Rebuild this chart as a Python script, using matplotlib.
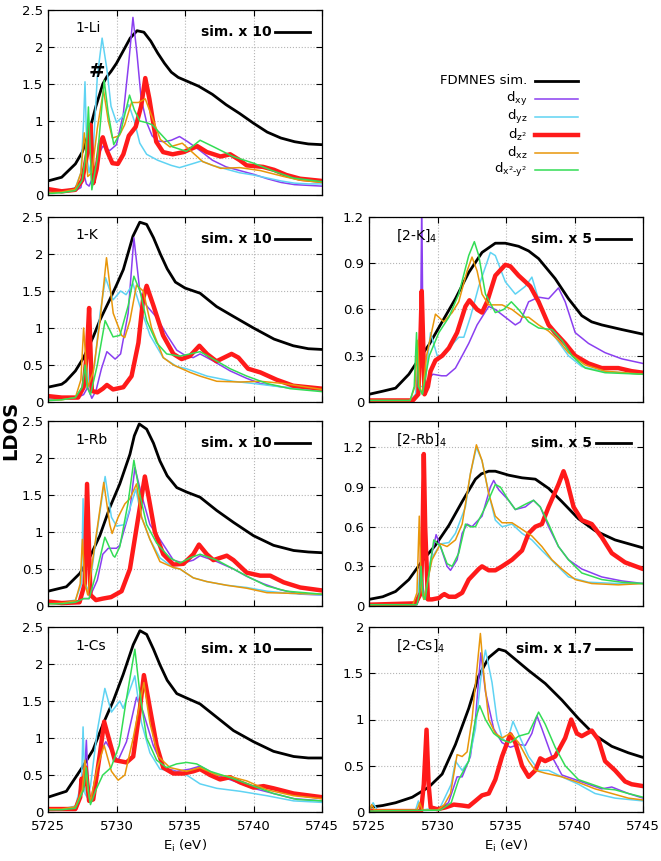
import matplotlib
matplotlib.use('Agg')
import matplotlib.pyplot as plt
from matplotlib.lines import Line2D
from matplotlib.ticker import FormatStrFormatter

# LDOS curves, as (E in eV, value) pairs
# order in every panel: FDMNES sim., dxy, dyz, dz2, dxz, dx2-y2

# ---- 1-Li
li_sim = [(5725, 0.19), (5726, 0.24), (5727, 0.42), (5727.5, 0.58), (5728, 0.85), (5728.5, 1.2), (5729, 1.5),
          (5729.3, 1.6), (5729.6, 1.67), (5730, 1.78), (5730.5, 1.95), (5731, 2.12), (5731.5, 2.22), (5732, 2.2),
          (5732.5, 2.08), (5733, 1.92), (5733.5, 1.78), (5734, 1.66), (5734.5, 1.59), (5735, 1.55), (5736, 1.47),
          (5737, 1.36), (5738, 1.22), (5739, 1.1), (5740, 0.97), (5741, 0.85), (5742, 0.77), (5743, 0.72),
          (5744, 0.69), (5745, 0.68)]
li_xy = [(5725, 0.04), (5726, 0.04), (5727, 0.06), (5727.4, 0.1), (5727.6, 0.3), (5727.8, 0.15), (5728, 0.12),
         (5728.3, 0.25), (5728.7, 0.55), (5729, 0.66), (5729.5, 0.6), (5730, 0.68), (5730.5, 1.1), (5730.9, 1.8),
         (5731.2, 2.4), (5731.5, 1.9), (5731.8, 1.3), (5732.2, 0.98), (5732.6, 0.8), (5733, 0.73), (5733.5, 0.72),
         (5734, 0.74), (5734.6, 0.79), (5735.2, 0.72), (5736.1, 0.6), (5737, 0.47), (5738, 0.38), (5739, 0.33),
         (5740, 0.28), (5741, 0.22), (5742, 0.17), (5743, 0.14), (5744, 0.13), (5745, 0.12)]
li_yz = [(5725, 0.06), (5726, 0.05), (5727, 0.1), (5727.4, 0.3), (5727.6, 1.0), (5727.7, 1.53), (5727.85, 0.5),
         (5728, 0.3), (5728.3, 0.6), (5728.6, 1.6), (5728.95, 2.12), (5729.3, 1.7), (5729.6, 1.2), (5730, 0.98),
         (5730.4, 1.05), (5730.9, 1.22), (5731.3, 1.0), (5731.7, 0.7), (5732.2, 0.55), (5733, 0.47), (5734, 0.4),
         (5734.6, 0.37), (5735.5, 0.42), (5736.2, 0.46), (5737, 0.4), (5738, 0.35), (5739, 0.3), (5740, 0.27),
         (5741, 0.23), (5742, 0.19), (5743, 0.16), (5744, 0.15), (5745, 0.15)]
li_z2 = [(5725, 0.08), (5726, 0.05), (5727, 0.07), (5727.5, 0.2), (5727.75, 0.45), (5727.9, 0.6), (5728.1, 0.95),
         (5728.3, 0.16), (5728.55, 0.35), (5728.8, 0.7), (5729.0, 0.78), (5729.3, 0.6), (5729.7, 0.43),
         (5730.1, 0.42), (5730.5, 0.55), (5730.9, 0.8), (5731.4, 0.92), (5731.8, 1.2), (5732.1, 1.58),
         (5732.4, 1.3), (5732.9, 0.72), (5733.4, 0.58), (5734.1, 0.55), (5734.9, 0.58), (5735.9, 0.66),
         (5736.6, 0.58), (5737.6, 0.52), (5738.3, 0.55), (5739.0, 0.47), (5739.5, 0.4), (5740.7, 0.38),
         (5741.5, 0.34), (5742.4, 0.27), (5743.4, 0.22), (5745, 0.19)]
li_xz = [(5725, 0.03), (5726, 0.04), (5727, 0.08), (5727.4, 0.3), (5727.65, 0.84), (5727.9, 0.25), (5728.2, 0.3),
         (5728.6, 0.9), (5729.05, 1.42), (5729.4, 1.0), (5729.7, 0.77), (5730.2, 0.8), (5730.6, 0.95),
         (5731.1, 1.25), (5731.6, 1.25), (5732.1, 1.3), (5732.7, 1.0), (5733.2, 0.75), (5733.9, 0.65),
         (5734.8, 0.7), (5735.4, 0.6), (5736.3, 0.45), (5737.6, 0.36), (5739, 0.37), (5740.5, 0.33),
         (5742.2, 0.25), (5743.4, 0.2), (5745, 0.17)]
li_x2y2 = [(5725, 0.02), (5726, 0.03), (5727, 0.06), (5727.5, 0.2), (5727.8, 0.6), (5727.95, 1.19), (5728.2, 0.07),
           (5728.6, 0.5), (5729.1, 1.55), (5729.4, 1.1), (5729.8, 0.68), (5730.3, 0.85), (5730.95, 1.35),
           (5731.3, 1.15), (5731.7, 1.0), (5732.15, 0.98), (5732.6, 0.95), (5733.2, 0.83), (5734.1, 0.65),
           (5735.1, 0.59), (5736.1, 0.74), (5737.1, 0.65), (5738.5, 0.52), (5740, 0.43), (5741.5, 0.32),
           (5742.9, 0.23), (5745, 0.18)]

# ---- 1-K
k_sim = [(5725, 0.2), (5726, 0.24), (5726.3, 0.28), (5727, 0.42), (5727.6, 0.6), (5728.3, 0.88), (5728.8, 1.11),
         (5729.5, 1.38), (5730, 1.58), (5730.5, 1.79), (5731.2, 2.24), (5731.7, 2.43), (5732.2, 2.4), (5732.7, 2.22),
         (5733.2, 2.0), (5733.7, 1.8), (5734.3, 1.62), (5735, 1.54), (5736.1, 1.47), (5737.3, 1.29), (5738.5, 1.16),
         (5740, 1.0), (5741.5, 0.85), (5742.9, 0.76), (5744, 0.72), (5745, 0.71)]
k_xy = [(5725, 0.04), (5726, 0.04), (5727, 0.05), (5727.6, 0.1), (5727.9, 0.2), (5728.2, 0.05), (5728.5, 0.15),
        (5728.9, 0.45), (5729.3, 0.68), (5729.9, 0.58), (5730.3, 0.65), (5730.85, 1.2), (5731.27, 2.22),
        (5731.7, 1.5), (5732.2, 1.3), (5732.9, 1.15), (5733.7, 0.9), (5734.4, 0.7), (5735.1, 0.62), (5735.6, 0.6),
        (5736.1, 0.65), (5737.1, 0.55), (5738.3, 0.42), (5739.5, 0.32), (5740.5, 0.25), (5742.2, 0.2), (5745, 0.16)]
k_yz = [(5725, 0.04), (5726, 0.04), (5727, 0.06), (5727.5, 0.2), (5727.8, 0.6), (5728.0, 0.2), (5728.4, 0.5),
        (5728.8, 1.2), (5729.2, 1.68), (5729.75, 1.38), (5730.3, 1.5), (5730.7, 1.45), (5731.2, 1.6), (5731.7, 1.3),
        (5732.45, 0.9), (5733.4, 0.6), (5734.4, 0.48), (5735.1, 0.45), (5736.6, 0.35), (5738.5, 0.28),
        (5740, 0.25), (5742.2, 0.2), (5745, 0.15)]
k_z2 = [(5725, 0.08), (5726, 0.06), (5727.2, 0.06), (5727.6, 0.2), (5727.85, 0.7), (5728.0, 1.27), (5728.2, 0.15),
        (5728.6, 0.13), (5729.0, 0.18), (5729.3, 0.23), (5729.75, 0.17), (5730.5, 0.2), (5731.1, 0.35),
        (5731.6, 0.8), (5731.95, 1.4), (5732.2, 1.57), (5732.7, 1.3), (5733.4, 0.9), (5734.15, 0.65),
        (5734.75, 0.58), (5735.35, 0.62), (5736.05, 0.76), (5736.6, 0.65), (5737.3, 0.55), (5738.4, 0.65),
        (5738.9, 0.6), (5739.6, 0.45), (5740.5, 0.4), (5741.7, 0.3), (5742.9, 0.22), (5745, 0.18)]
k_xz = [(5725, 0.02), (5726, 0.03), (5727, 0.06), (5727.4, 0.3), (5727.6, 1.0), (5727.9, 0.2), (5728.3, 0.4),
        (5728.8, 1.1), (5729.27, 1.95), (5729.76, 1.2), (5730.37, 0.9), (5730.6, 0.87), (5730.98, 1.1),
        (5731.46, 1.58), (5731.95, 1.5), (5732.56, 1.0), (5733.41, 0.6), (5734.15, 0.5), (5735.37, 0.4),
        (5736.1, 0.35), (5737.32, 0.28), (5739.02, 0.27), (5740.49, 0.28), (5742.2, 0.25), (5745, 0.17)]
k_x2y2 = [(5725, 0.02), (5726, 0.03), (5727, 0.06), (5727.5, 0.2), (5727.7, 0.5), (5727.85, 0.2), (5728.1, 0.1),
          (5728.6, 0.5), (5729.17, 1.1), (5729.75, 0.88), (5730.25, 0.9), (5730.85, 1.3), (5731.27, 1.7),
          (5731.71, 1.5), (5732.2, 1.1), (5732.93, 0.8), (5733.66, 0.65), (5734.63, 0.62), (5736.1, 0.68),
          (5737.07, 0.58), (5738.29, 0.45), (5739.51, 0.35), (5740.98, 0.25), (5742.68, 0.18), (5745, 0.14)]

# ---- 1-Rb
rb_sim = [(5725, 0.2), (5726.34, 0.26), (5727.32, 0.44), (5728.05, 0.66), (5728.78, 0.95), (5729.51, 1.33),
          (5730.24, 1.65), (5730.98, 2.05), (5731.3, 2.3), (5731.66, 2.46), (5732.2, 2.39), (5732.7, 2.2),
          (5733.17, 1.96), (5733.7, 1.76), (5734.4, 1.6), (5735.12, 1.54), (5736.1, 1.47), (5737.32, 1.29),
          (5738.54, 1.13), (5740, 0.95), (5741.46, 0.82), (5742.93, 0.75), (5744, 0.73), (5745, 0.72)]
rb_xy = [(5725, 0.05), (5726, 0.04), (5727, 0.05), (5727.5, 0.1), (5728, 0.1), (5728.6, 0.35), (5729.0, 0.7),
         (5729.4, 0.78), (5730.0, 0.78), (5730.24, 0.82), (5730.98, 1.3), (5731.34, 1.87), (5731.83, 1.5),
         (5732.44, 1.1), (5733.17, 0.9), (5734.15, 0.62), (5734.88, 0.58), (5735.61, 0.62), (5736.1, 0.68),
         (5737.32, 0.6), (5738.54, 0.5), (5739.51, 0.4), (5740.73, 0.3), (5741.95, 0.22), (5743.41, 0.16),
         (5745, 0.15)]
rb_yz = [(5725, 0.05), (5726, 0.05), (5727, 0.08), (5727.45, 0.3), (5727.56, 1.45), (5727.7, 0.3), (5728.0, 0.2),
         (5728.5, 0.9), (5729.17, 1.75), (5729.63, 1.2), (5730.0, 1.08), (5730.61, 1.1), (5731.41, 1.58),
         (5731.83, 1.2), (5732.44, 0.9), (5733.17, 0.65), (5734.15, 0.52), (5734.63, 0.5), (5735.61, 0.38),
         (5736.59, 0.33), (5738.05, 0.28), (5739.51, 0.25), (5740.98, 0.2), (5742.68, 0.17), (5745, 0.15)]
rb_z2 = [(5725, 0.06), (5726, 0.04), (5727.3, 0.05), (5727.68, 0.3), (5727.85, 1.65), (5728.1, 0.15),
         (5728.5, 0.08), (5729.0, 0.1), (5729.6, 0.12), (5730.37, 0.2), (5730.98, 0.5), (5731.59, 1.2),
         (5732.07, 1.75), (5732.32, 1.5), (5732.8, 1.0), (5733.41, 0.7), (5734.15, 0.56), (5734.88, 0.57),
         (5735.61, 0.7), (5736.02, 0.83), (5736.59, 0.7), (5737.07, 0.62), (5738.05, 0.68), (5738.54, 0.62),
         (5739.51, 0.45), (5740.49, 0.41), (5741.22, 0.41), (5742.2, 0.32), (5743.41, 0.25), (5745, 0.21)]
rb_xz = [(5725, 0.03), (5726, 0.04), (5727, 0.07), (5727.35, 0.3), (5727.51, 0.9), (5727.7, 0.3), (5727.9, 0.15),
         (5728.4, 0.8), (5729.07, 1.67), (5729.51, 1.1), (5729.68, 0.98), (5730.12, 1.2), (5730.61, 1.38),
         (5730.98, 1.45), (5731.46, 1.65), (5731.83, 1.2), (5732.44, 0.9), (5733.17, 0.6), (5734.15, 0.52),
         (5734.63, 0.5), (5735.61, 0.38), (5736.59, 0.33), (5738.05, 0.28), (5739.51, 0.24), (5740.98, 0.18),
         (5745, 0.16)]
rb_x2y2 = [(5725, 0.03), (5726, 0.03), (5727, 0.05), (5727.6, 0.1), (5728.0, 0.1), (5728.6, 0.5), (5729.15, 0.93),
           (5729.76, 0.68), (5729.88, 0.66), (5730.24, 0.8), (5730.85, 1.4), (5731.27, 1.97), (5731.71, 1.5),
           (5732.2, 1.1), (5732.93, 0.85), (5733.9, 0.65), (5734.63, 0.58), (5735.37, 0.65), (5736.1, 0.7),
           (5737.32, 0.62), (5738.54, 0.5), (5739.76, 0.38), (5740.98, 0.27), (5742.44, 0.2), (5745, 0.16)]

# ---- 1-Cs
cs_sim = [(5725, 0.2), (5726.34, 0.28), (5727.56, 0.62), (5728.29, 0.84), (5729.02, 1.19), (5729.76, 1.5),
          (5730.49, 1.86), (5731.22, 2.26), (5731.71, 2.45), (5732.2, 2.4), (5732.7, 2.2), (5733.17, 1.99),
          (5733.7, 1.78), (5734.4, 1.6), (5735.12, 1.54), (5736.1, 1.46), (5737.32, 1.28), (5738.54, 1.1),
          (5740, 0.95), (5741.46, 0.82), (5742.93, 0.75), (5744, 0.73), (5745, 0.73)]
cs_xy = [(5725, 0.04), (5726, 0.04), (5727, 0.06), (5727.6, 0.3), (5727.8, 0.97), (5727.95, 0.3), (5728.1, 0.15),
         (5728.4, 0.4), (5728.8, 0.8), (5729.22, 0.95), (5729.88, 0.75), (5730.12, 0.7), (5730.73, 0.95),
         (5731.46, 1.55), (5731.95, 1.35), (5732.68, 0.9), (5733.41, 0.6), (5734.39, 0.55), (5735.37, 0.58),
         (5736.1, 0.62), (5737.32, 0.5), (5738.54, 0.42), (5740, 0.32), (5741.46, 0.25), (5742.93, 0.18),
         (5745, 0.15)]
cs_yz = [(5725, 0.04), (5726, 0.04), (5727, 0.08), (5727.45, 0.4), (5727.56, 1.15), (5727.7, 0.25), (5727.85, 0.2),
         (5728.1, 0.35), (5728.6, 1.1), (5729.15, 1.67), (5729.63, 1.35), (5730.24, 1.5), (5730.49, 1.4),
         (5731.34, 1.84), (5731.83, 1.2), (5732.44, 0.8), (5733.17, 0.58), (5734.15, 0.55), (5735.12, 0.5),
         (5736.1, 0.38), (5737.32, 0.32), (5739.02, 0.28), (5740.98, 0.22), (5742.93, 0.15), (5745, 0.13)]
cs_z2 = [(5725, 0.04), (5727, 0.04), (5727.35, 0.2), (5727.45, 0.45), (5727.55, 0.35), (5727.75, 0.6),
         (5728.0, 0.15), (5728.3, 0.17), (5728.8, 0.8), (5729.1, 1.22), (5729.5, 0.95), (5729.88, 0.7),
         (5730.73, 0.67), (5731.22, 0.75), (5731.71, 1.4), (5732.0, 1.85), (5732.44, 1.4), (5732.93, 0.9),
         (5733.41, 0.6), (5734.15, 0.52), (5734.88, 0.52), (5735.61, 0.55), (5736.1, 0.58), (5736.83, 0.5),
         (5737.56, 0.44), (5738.29, 0.47), (5739.02, 0.4), (5740, 0.33), (5740.73, 0.35), (5741.46, 0.32),
         (5742.93, 0.25), (5745, 0.2)]
cs_xz = [(5725, 0.04), (5726, 0.04), (5727, 0.07), (5727.5, 0.3), (5727.7, 0.7), (5727.9, 0.3), (5728.1, 0.15),
         (5728.6, 0.6), (5729.1, 0.9), (5729.63, 0.55), (5730.12, 0.43), (5730.61, 0.5), (5731.22, 1.0),
         (5732.0, 1.75), (5732.44, 1.2), (5733.05, 0.75), (5733.9, 0.6), (5735.12, 0.55), (5736.1, 0.6),
         (5737.32, 0.5), (5738.29, 0.48), (5739.51, 0.42), (5740.98, 0.3), (5742.93, 0.22), (5745, 0.18)]
cs_x2y2 = [(5725, 0.03), (5726, 0.03), (5727, 0.05), (5727.6, 0.3), (5727.8, 0.6), (5728.0, 0.2), (5728.1, 0.1),
           (5728.5, 0.3), (5729.0, 0.5), (5729.6, 0.6), (5730.2, 0.9), (5730.7, 1.5), (5731.34, 2.2),
           (5731.71, 1.6), (5732.2, 1.0), (5732.93, 0.7), (5733.66, 0.6), (5734.39, 0.65), (5735.12, 0.67),
           (5735.85, 0.65), (5736.83, 0.55), (5738.54, 0.45), (5740, 0.35), (5741.46, 0.25), (5743.17, 0.17),
           (5745, 0.15)]

# ---- [2-K]4
k2_sim = [(5725, 0.05), (5726, 0.07), (5726.94, 0.09), (5727.91, 0.18), (5728.65, 0.28), (5729.37, 0.37),
          (5730.34, 0.52), (5731.31, 0.67), (5732.28, 0.84), (5733.25, 0.97), (5734.22, 1.03), (5734.95, 1.03),
          (5735.92, 1.01), (5736.65, 0.98), (5737.38, 0.93), (5738.59, 0.8), (5739.56, 0.67), (5740.53, 0.56),
          (5741.25, 0.52), (5741.99, 0.5), (5743.45, 0.47), (5745, 0.44)]
k2_xy = [(5725, 0.01), (5728.0, 0.01), (5728.6, 0.05), (5728.75, 0.3), (5728.85, 1.3), (5728.95, 0.3),
         (5729.05, 0.05), (5729.3, 0.15), (5729.67, 0.18), (5730.3, 0.17), (5730.65, 0.17), (5731.31, 0.22),
         (5731.8, 0.3), (5732.28, 0.38), (5732.89, 0.5), (5733.74, 0.62), (5734.22, 0.6), (5734.95, 0.55),
         (5735.68, 0.5), (5736.04, 0.52), (5736.65, 0.65), (5737.38, 0.68), (5738.11, 0.67), (5738.83, 0.74),
         (5739.32, 0.65), (5740.05, 0.45), (5741.02, 0.38), (5742.23, 0.32), (5743.45, 0.28), (5745, 0.25)]
k2_yz = [(5725, 0.01), (5728.0, 0.01), (5728.4, 0.05), (5728.6, 0.3), (5728.75, 0.1), (5729.05, 0.1),
         (5729.49, 0.45), (5729.98, 0.3), (5730.46, 0.3), (5730.83, 0.35), (5731.55, 0.42), (5731.92, 0.42),
         (5732.4, 0.55), (5733.01, 0.75), (5733.86, 0.97), (5734.22, 0.95), (5734.95, 0.78), (5735.68, 0.7),
         (5736.41, 0.75), (5736.89, 0.81), (5737.26, 0.7), (5737.86, 0.55), (5738.59, 0.42), (5739.56, 0.3),
         (5740.53, 0.23), (5741.99, 0.2), (5745, 0.18)]
k2_z2 = [(5725, 0.01), (5728.2, 0.01), (5728.6, 0.05), (5728.75, 0.4), (5728.85, 0.72), (5728.95, 0.4),
         (5729.05, 0.05), (5729.3, 0.1), (5729.49, 0.2), (5729.85, 0.27), (5730.34, 0.3), (5730.83, 0.35),
         (5731.43, 0.45), (5732.04, 0.62), (5732.33, 0.66), (5732.89, 0.6), (5733.25, 0.58), (5733.62, 0.65),
         (5734.22, 0.82), (5734.95, 0.89), (5735.32, 0.88), (5735.92, 0.82), (5736.41, 0.78), (5736.77, 0.75),
         (5737.38, 0.65), (5738.11, 0.5), (5738.59, 0.45), (5739.32, 0.38), (5740.05, 0.3), (5741.02, 0.25),
         (5741.99, 0.22), (5743.2, 0.22), (5744.17, 0.2), (5745, 0.19)]
k2_xz = [(5725, 0.01), (5728.0, 0.01), (5728.35, 0.1), (5728.55, 0.4), (5728.7, 0.1), (5728.9, 0.05),
         (5729.2, 0.3), (5729.85, 0.57), (5730.46, 0.52), (5731.07, 0.58), (5731.55, 0.65), (5732.16, 0.85),
         (5732.52, 0.94), (5732.89, 0.85), (5733.25, 0.7), (5733.74, 0.63), (5734.71, 0.63), (5735.44, 0.6),
         (5736.17, 0.55), (5736.65, 0.55), (5737.38, 0.5), (5738.11, 0.46), (5738.83, 0.4), (5739.56, 0.32),
         (5740.78, 0.24), (5742.23, 0.2), (5745, 0.18)]
k2_x2y2 = [(5725, 0.01), (5728.0, 0.01), (5728.3, 0.1), (5728.47, 0.45), (5728.6, 0.1), (5728.9, 0.05),
           (5729.4, 0.3), (5730.1, 0.45), (5730.83, 0.55), (5731.55, 0.7), (5732.28, 0.95), (5732.69, 1.04),
           (5733.01, 0.95), (5733.5, 0.7), (5734.22, 0.58), (5734.83, 0.6), (5735.39, 0.65), (5735.92, 0.6),
           (5736.65, 0.52), (5737.38, 0.48), (5738.35, 0.47), (5739.08, 0.4), (5739.81, 0.3), (5740.78, 0.22),
           (5742.23, 0.19), (5745, 0.18)]

# ---- [2-Rb]4
rb2_sim = [(5725, 0.05), (5726, 0.07), (5726.94, 0.11), (5727.91, 0.2), (5728.88, 0.34), (5729.85, 0.46),
           (5730.83, 0.61), (5731.8, 0.79), (5732.77, 0.96), (5733.2, 1.0), (5733.74, 1.02), (5734.22, 1.02),
           (5735.19, 0.99), (5736.17, 0.97), (5737.14, 0.96), (5738.11, 0.89), (5739.08, 0.79), (5740.29, 0.66),
           (5741.5, 0.57), (5742.96, 0.5), (5745, 0.44)]
rb2_xy = [(5725, 0.01), (5728.5, 0.01), (5728.8, 0.1), (5728.9, 0.2), (5729.0, 0.08), (5729.1, 0.05),
          (5729.6, 0.4), (5729.9, 0.54), (5730.22, 0.45), (5730.7, 0.3), (5730.95, 0.27), (5731.43, 0.35),
          (5731.8, 0.55), (5732.16, 0.62), (5732.52, 0.6), (5733.25, 0.68), (5733.86, 0.9), (5734.1, 0.95),
          (5734.47, 0.88), (5735.19, 0.8), (5735.68, 0.73), (5736.41, 0.75), (5737.01, 0.8), (5737.5, 0.75),
          (5738.11, 0.6), (5738.83, 0.45), (5739.56, 0.35), (5740.53, 0.28), (5741.99, 0.22), (5743.45, 0.19),
          (5745, 0.17)]
rb2_yz = [(5725, 0.01), (5728.3, 0.01), (5728.6, 0.1), (5728.72, 0.3), (5728.85, 0.1), (5729.0, 0.05),
          (5729.5, 0.35), (5730.22, 0.47), (5730.83, 0.48), (5731.31, 0.55), (5732.04, 0.75), (5732.4, 1.0),
          (5732.84, 1.2), (5733.25, 1.1), (5733.74, 0.85), (5734.22, 0.65), (5734.71, 0.6), (5735.44, 0.62),
          (5736.17, 0.55), (5736.89, 0.5), (5737.62, 0.42), (5738.59, 0.32), (5739.56, 0.22), (5741.02, 0.18),
          (5743.2, 0.17), (5745, 0.17)]
rb2_z2 = [(5725, 0.01), (5728.4, 0.02), (5728.8, 0.1), (5728.92, 0.6), (5729.0, 1.15), (5729.1, 0.6),
          (5729.3, 0.05), (5729.6, 0.05), (5730.1, 0.06), (5730.34, 0.08), (5730.5, 0.09), (5730.83, 0.07),
          (5731.31, 0.07), (5731.8, 0.1), (5732.28, 0.2), (5733.01, 0.28), (5733.25, 0.3), (5733.74, 0.27),
          (5734.22, 0.27), (5734.71, 0.3), (5735.44, 0.35), (5736.17, 0.42), (5736.65, 0.55), (5737.14, 0.6),
          (5737.62, 0.62), (5738.11, 0.75), (5738.83, 0.92), (5739.2, 1.02), (5739.44, 0.95), (5739.93, 0.75),
          (5740.53, 0.65), (5741.26, 0.62), (5741.99, 0.52), (5742.72, 0.4), (5743.69, 0.33), (5745, 0.28)]
rb2_xz = [(5725, 0.01), (5728.2, 0.01), (5728.5, 0.1), (5728.67, 0.68), (5728.8, 0.15), (5729.0, 0.05),
          (5729.6, 0.35), (5730.22, 0.47), (5730.7, 0.45), (5731.31, 0.5), (5731.8, 0.62), (5732.4, 1.0),
          (5732.84, 1.22), (5733.25, 1.1), (5733.74, 0.85), (5734.22, 0.68), (5734.71, 0.63), (5735.44, 0.63),
          (5736.17, 0.58), (5736.89, 0.53), (5737.62, 0.45), (5738.35, 0.35), (5739.08, 0.28), (5740.05, 0.2),
          (5741.26, 0.17), (5743.2, 0.16), (5745, 0.17)]
rb2_x2y2 = [(5725, 0.01), (5728.5, 0.01), (5728.7, 0.1), (5728.8, 0.3), (5728.95, 0.08), (5729.1, 0.05),
            (5729.73, 0.5), (5730.22, 0.45), (5730.7, 0.32), (5731.07, 0.3), (5731.55, 0.4), (5732.04, 0.62),
            (5732.4, 0.6), (5732.77, 0.6), (5733.5, 0.75), (5734.22, 0.92), (5734.59, 0.9), (5735.19, 0.8),
            (5735.68, 0.73), (5736.41, 0.77), (5737.01, 0.8), (5737.5, 0.75), (5738.11, 0.62), (5738.83, 0.45),
            (5739.56, 0.35), (5740.53, 0.25), (5741.99, 0.2), (5743.45, 0.18), (5745, 0.17)]

# ---- [2-Cs]4
cs2_sim = [(5725, 0.05), (5726, 0.07), (5726.94, 0.1), (5728.16, 0.16), (5729.37, 0.27), (5730.34, 0.41),
           (5731.31, 0.73), (5732.28, 1.12), (5733.01, 1.47), (5733.74, 1.67), (5734.47, 1.76), (5734.95, 1.74),
           (5735.68, 1.65), (5736.65, 1.53), (5737.86, 1.39), (5739.08, 1.21), (5740.29, 1.01), (5741.5, 0.83),
           (5742.72, 0.71), (5743.93, 0.64), (5745, 0.59)]
cs2_xy = [(5725, 0.01), (5730.0, 0.02), (5730.8, 0.1), (5731.43, 0.38), (5731.8, 0.38), (5732.4, 0.6),
          (5732.77, 1.0), (5733.16, 1.72), (5733.5, 1.3), (5734.1, 0.9), (5734.71, 0.75), (5735.32, 0.7),
          (5735.92, 0.73), (5736.41, 0.72), (5736.89, 0.85), (5737.26, 1.04), (5737.62, 0.9), (5738.35, 0.6),
          (5739.08, 0.4), (5740.05, 0.35), (5741.02, 0.3), (5741.99, 0.25), (5742.72, 0.27), (5743.93, 0.2),
          (5745, 0.15)]
cs2_yz = [(5725, 0.01), (5725.3, 0.1), (5725.6, 0.02), (5728.4, 0.02), (5728.6, 0.12), (5728.8, 0.02),
          (5730.2, 0.05), (5731.0, 0.3), (5731.31, 0.55), (5731.8, 0.45), (5732.28, 0.55), (5732.77, 0.9),
          (5733.13, 1.4), (5733.25, 1.55), (5733.5, 1.75), (5733.98, 1.4), (5734.34, 1.0), (5734.71, 0.8),
          (5735.07, 0.75), (5735.51, 0.98), (5736.04, 0.8), (5736.65, 0.6), (5737.38, 0.45), (5738.11, 0.45),
          (5739.08, 0.38), (5740.29, 0.3), (5741.5, 0.2), (5742.96, 0.15), (5745, 0.12)]
cs2_z2 = [(5725, 0.01), (5728.8, 0.01), (5729.0, 0.3), (5729.2, 0.89), (5729.35, 0.3), (5729.5, 0.05),
          (5730.0, 0.03), (5730.58, 0.05), (5731.19, 0.08), (5731.8, 0.07), (5732.28, 0.06), (5732.77, 0.12),
          (5733.25, 0.18), (5733.74, 0.2), (5734.22, 0.35), (5734.71, 0.6), (5735.32, 0.84), (5735.68, 0.75),
          (5736.17, 0.5), (5736.65, 0.38), (5737.14, 0.45), (5737.5, 0.58), (5737.86, 0.55), (5738.59, 0.6),
          (5739.32, 0.8), (5739.76, 1.0), (5740.17, 0.85), (5740.53, 0.82), (5741.26, 0.88), (5741.75, 0.78),
          (5742.23, 0.55), (5742.96, 0.45), (5743.69, 0.33), (5744.17, 0.3), (5745, 0.28)]
cs2_xz = [(5725, 0.01), (5725.2, 0.08), (5725.4, 0.02), (5728.5, 0.02), (5728.7, 0.1), (5728.9, 0.02),
          (5730.0, 0.02), (5730.5, 0.08), (5730.95, 0.2), (5731.43, 0.62), (5731.8, 0.6), (5732.16, 0.65),
          (5732.52, 1.0), (5733.13, 1.93), (5733.37, 1.5), (5733.74, 1.0), (5734.22, 0.85), (5734.71, 0.8),
          (5735.32, 0.85), (5735.92, 0.75), (5736.65, 0.55), (5737.14, 0.45), (5737.86, 0.42), (5739.08, 0.38),
          (5740.29, 0.32), (5741.5, 0.25), (5742.72, 0.2), (5743.93, 0.15), (5745, 0.13)]
cs2_x2y2 = [(5725, 0.01), (5730.2, 0.02), (5731.0, 0.1), (5731.55, 0.35), (5732.28, 0.55), (5732.77, 1.0),
            (5733.08, 1.15), (5733.5, 1.0), (5734.1, 0.85), (5734.71, 0.78), (5735.32, 0.75), (5735.92, 0.82),
            (5736.65, 0.85), (5737.38, 1.08), (5737.86, 0.95), (5738.59, 0.7), (5739.32, 0.5), (5740.29, 0.35),
            (5741.26, 0.3), (5742.23, 0.25), (5742.96, 0.24), (5743.93, 0.2), (5745, 0.16)]

names = ['FDMNES sim.', r'$\mathregular{d_{xy}}$', r'$\mathregular{d_{yz}}$', r'$\mathregular{d_{z^2}}$',
         r'$\mathregular{d_{xz}}$', r'$\mathregular{d_{x^2\text{-}y^2}}$']
colors = ['black', '#8a3ff0', '#5fd3f3', '#ff1a1a', '#e8960a', '#33dd55']
widths = [2.0, 1.1, 1.1, 3.2, 1.1, 1.1]

fig = plt.figure(figsize=(6.61, 8.61), dpi=100)

W = 274 / 661
H = 185 / 861


def panel(left, bottom, curves, label, sim_txt, ymax, yticks, bottom_row):
    ax = fig.add_axes([left, bottom, W, H])
    for c, col, lw in zip(curves, colors, widths):
        e, v = zip(*c)
        ax.plot(e, v, color=col, lw=lw, solid_joinstyle='round', solid_capstyle='round')
    ax.set_xlim(5725, 5745)
    ax.set_ylim(0, ymax)
    ax.set_xticks([5725, 5730, 5735, 5740, 5745])
    ax.set_yticks(yticks)
    ax.yaxis.set_major_formatter(FormatStrFormatter('%g'))
    ax.grid(True, color='#b4b4b4', linestyle=':', linewidth=0.8)
    ax.tick_params(direction='in', length=4, top=True, right=True, labelsize=9.5, colors='black')
    ax.tick_params(axis='x', pad=6)
    if bottom_row:
        ax.set_xlabel(r'E$_\mathregular{i}$ (eV)', fontsize=9.5, labelpad=3)
    else:
        ax.set_xticklabels([])
    for s in ax.spines.values():
        s.set_linewidth(0.9)
    ax.text(0.1, 0.9, label, transform=ax.transAxes, fontsize=10, va='center')
    ax.text(0.815, 0.88, sim_txt, transform=ax.transAxes, fontsize=10, weight='bold',
            ha='right', va='center')
    ax.add_line(Line2D([0.83, 0.955], [0.88, 0.88], transform=ax.transAxes, color='black', lw=2.0))
    return ax


xl = 48 / 661
xr = 369 / 661
rows = [1 - 195 / 861, 1 - 402 / 861, 1 - 606 / 861, 1 - 812 / 861]
yt_left = [0, 0.5, 1, 1.5, 2, 2.5]

ax_li = panel(xl, rows[0], [li_sim, li_xy, li_yz, li_z2, li_xz, li_x2y2], '1-Li', 'sim. x 10', 2.5, yt_left, False)
ax_li.text(0.18, 0.665, '#', transform=ax_li.transAxes, fontsize=14, weight='bold', ha='center', va='center')
panel(xl, rows[1], [k_sim, k_xy, k_yz, k_z2, k_xz, k_x2y2], '1-K', 'sim. x 10', 2.5, yt_left, False)
panel(xl, rows[2], [rb_sim, rb_xy, rb_yz, rb_z2, rb_xz, rb_x2y2], '1-Rb', 'sim. x 10', 2.5, yt_left, False)
panel(xl, rows[3], [cs_sim, cs_xy, cs_yz, cs_z2, cs_xz, cs_x2y2], '1-Cs', 'sim. x 10', 2.5, yt_left, True)

panel(xr, rows[1], [k2_sim, k2_xy, k2_yz, k2_z2, k2_xz, k2_x2y2], r'[2-K]$_\mathregular{4}$', 'sim. x 5',
      1.2, [0, 0.3, 0.6, 0.9, 1.2], False)
panel(xr, rows[2], [rb2_sim, rb2_xy, rb2_yz, rb2_z2, rb2_xz, rb2_x2y2], r'[2-Rb]$_\mathregular{4}$', 'sim. x 5',
      1.4, [0, 0.3, 0.6, 0.9, 1.2], False)
panel(xr, rows[3], [cs2_sim, cs2_xy, cs2_yz, cs2_z2, cs2_xz, cs2_x2y2], r'[2-Cs]$_\mathregular{4}$', 'sim. x 1.7',
      2.0, [0, 0.5, 1, 1.5, 2], True)

fig.text(0.016, 0.5, 'LDOS', rotation=90, fontsize=14, weight='bold', ha='center', va='center')

# legend in the empty top-right slot
leg_y = [81, 99, 117, 135, 153, 170]
for name, col, lw, yy in zip(names, colors, widths, leg_y):
    fy = 1 - yy / 861
    fig.text(527 / 661, fy, name, fontsize=9.5, ha='right', va='center')
    fig.add_artist(Line2D([535 / 661, 578 / 661], [fy, fy], color=col, lw=lw, transform=fig.transFigure))

fig.savefig('out.png', dpi=100)
